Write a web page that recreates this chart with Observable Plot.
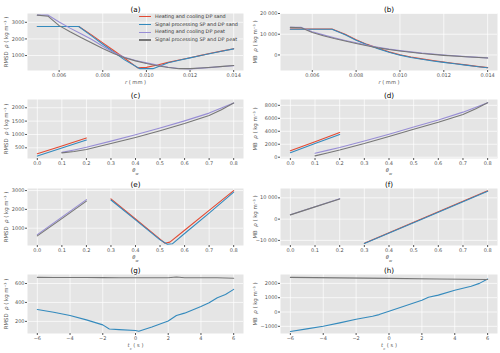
<!DOCTYPE html>
<html><head><meta charset="utf-8">
<script src="https://cdn.jsdelivr.net/npm/d3@7"></script>
<script src="https://cdn.jsdelivr.net/npm/@observablehq/plot@0.6"></script>
<style>
body{margin:0;background:#fff;}
#fig{position:relative;width:500px;height:353px;font-family:"DejaVu Sans",sans-serif;overflow:hidden;}
.cell{position:absolute;}
.legend{position:absolute;left:139px;top:13px;font-size:4.9px;color:#333;line-height:7.7px;}
.legend div{display:flex;align-items:center;height:7.7px;white-space:nowrap;}
.legend span.sw{display:inline-block;width:12px;height:1.2px;margin-right:4px;}
</style></head><body><div id="fig"></div>
<script>
// ---------- series names / colours ----------
const seriesNames = ["Heating and cooling DP sand", "Signal processing SP and DP sand", "Heating and cooling DP peat", "Signal processing SP and DP peat"];
const seriesColors = ["#E24A33", "#348ABD", "#988ED5", "#777777"];

// ---------- (a) RMSD vs r ----------
const aSandHC_r = [0.005, 0.0069, 0.0075, 0.008, 0.0085, 0.009, 0.0096, 0.0100, 0.0105, 0.011, 0.0115, 0.012, 0.0125, 0.013, 0.0135, 0.014];
const aSandHC   = [2750, 2750, 2230, 1760, 1300, 840, 260, 290, 430, 590, 730, 870, 1010, 1150, 1280, 1410];
const aSandSP_r = [0.005, 0.0069, 0.0075, 0.008, 0.0085, 0.009, 0.0097, 0.0103, 0.011, 0.0115, 0.012, 0.0125, 0.013, 0.0135, 0.014];
const aSandSP   = [2750, 2750, 2170, 1680, 1210, 740, 210, 210, 570, 720, 860, 1000, 1140, 1270, 1400];
const aPeat_r   = [0.005, 0.0055, 0.006, 0.0065, 0.007, 0.0075, 0.008, 0.0085, 0.009, 0.0095, 0.010, 0.0105, 0.011, 0.0115, 0.012, 0.0125, 0.013, 0.0135, 0.014];
const aPeatHC   = [3430, 3430, 3020, 2650, 2310, 1960, 1560, 1180, 900, 700, 560, 430, 300, 220, 200, 240, 290, 340, 390];
const aPeatSP   = [3430, 3360, 2800, 2430, 2080, 1760, 1420, 1120, 870, 680, 520, 390, 280, 210, 210, 250, 300, 350, 400];

// ---------- (b) MB vs r ----------
const bSand_r  = [0.005, 0.0069, 0.0075, 0.008, 0.0085, 0.009, 0.0095, 0.010, 0.0105, 0.011, 0.0115, 0.012, 0.0125, 0.013, 0.0135, 0.014];
const bSandHC  = [12500, 12500, 10000, 7300, 5100, 3200, 1500, 100, -1000, -1900, -2700, -3450, -4100, -4800, -5500, -6100];
const bSandSP  = [12400, 12400, 9800, 7100, 4900, 3000, 1300, -100, -1200, -2100, -2900, -3600, -4250, -4900, -5600, -6200];
const bPeat_r  = [0.005, 0.0055, 0.006, 0.0065, 0.007, 0.0075, 0.008, 0.0085, 0.009, 0.0095, 0.010, 0.011, 0.012, 0.013, 0.014];
const bPeatHC  = [13300, 13300, 11200, 9700, 8300, 7000, 5900, 4700, 3700, 2800, 2100, 900, 0, -800, -1400];
const bPeatSP  = [13300, 13100, 10800, 9300, 7900, 6700, 5500, 4400, 3400, 2600, 1900, 700, -200, -900, -1500];

// ---------- (c),(d) vs theta_w ----------
const cdSand_t = [0, 0.1, 0.2];
const cSandHC  = [280, 570, 870];
const cSandSP  = [190, 490, 790];
const cdPeat_t = [0.1, 0.15, 0.2, 0.3, 0.4, 0.5, 0.6, 0.7, 0.75, 0.8];
const cPeatHC  = [330, 420, 520, 750, 990, 1240, 1510, 1800, 1990, 2180];
const cPeatSP  = [310, 360, 440, 660, 890, 1140, 1410, 1710, 1930, 2180];
const dSandHC  = [1000, 2400, 3800];
const dSandSP  = [700, 2100, 3500];
const dPeatHC  = [600, 1050, 1500, 2500, 3550, 4650, 5750, 6950, 7650, 8400];
const dPeatSP  = [200, 650, 1100, 2100, 3200, 4300, 5400, 6600, 7450, 8400];

// ---------- (e),(f) vs theta_w ----------
const efPeat_t  = [0, 0.1, 0.2];
const ePeatHC   = [660, 1590, 2520];
const ePeatSP   = [590, 1510, 2440];
const eSandHC_t = [0.3, 0.4, 0.5, 0.52, 0.54, 0.6, 0.7, 0.8];
const eSandHC   = [2560, 1490, 420, 200, 260, 890, 1950, 3000];
const eSandSP_t = [0.3, 0.4, 0.5, 0.53, 0.55, 0.6, 0.7, 0.8];
const eSandSP   = [2500, 1440, 380, 150, 170, 720, 1800, 2920];
const fPeatHC   = [2100, 5850, 9600];
const fPeatSP   = [2000, 5750, 9500];
const fSand_t   = [0.3, 0.55, 0.8];
const fSandHC   = [-11300, 1000, 13300];
const fSandSP   = [-11500, 800, 13100];

// ---------- (g),(h) vs t_c ----------
const gPeat_tc = [-6, -5, -4, -3, -2, -1, 0, 1, 2, 2.5, 3, 4, 5, 6];
const gPeatSP  = [665, 664, 664, 663, 662, 661, 660, 660, 661, 668, 660, 661, 660, 656];
const gSand_tc = [-6, -5, -4, -3, -2, -1.6, -1, 0, 0.2, 1, 2, 2.5, 3, 4, 4.5, 5, 5.5, 6];
const gSandSP  = [325, 297, 262, 216, 163, 120, 113, 103, 95, 140, 204, 262, 287, 358, 397, 450, 483, 538];
const hPeat_tc = [-6, -3, 0, 3, 6];
const hPeatSP  = [2420, 2385, 2350, 2310, 2270];
const hSand_tc = [-6, -5, -4, -3, -2, -1, -0.6, 0, 1, 2, 2.4, 3, 4, 5, 5.5, 6];
const hSandSP  = [-1360, -1180, -990, -760, -510, -300, -180, 60, 440, 820, 1030, 1180, 1520, 1800, 2000, 2300];

// ---------- ticks ----------
const rTicks = [0.006, 0.008, 0.010, 0.012, 0.014];
const thTicks = [0, 0.1, 0.2, 0.3, 0.4, 0.5, 0.6, 0.7, 0.8];
const tcTicks = [-6, -4, -2, 0, 2, 4, 6];

const fmtNum = d => { const a = Math.abs(d); const s = a >= 10000 ? d3.format(",")(a).replace(/,/g, " ") : String(a); return (d < 0 ? "\u2212" : "") + s; };
const f3 = d3.format(".3f"), f1 = d3.format(".1f");

const S = (x, y) => x.map((v, i) => ({x: v, y: y[i]}));

const rmsdLabel = ["RMSD  ρ ( kg m⁻³ )", [["RMSD  "], ["ρ", "i"], [" ( kg m⁻³ )"]]];
const mbLabel = ["MB  ρ ( kg m⁻³ )", [["MB  "], ["ρ", "i"], [" ( kg m⁻³ )"]]];
const rLabel = ["r ( mm )", [["r", "i"], [" ( mm )"]]];
const thLabel = ["θw", [["θ", "i"], ["w", "isub"]]];
const tcLabel = ["tc ( s )", [["t", "i"], ["c", "isub"], [" ( s )"]]];

const rowTops = [1, 87, 176, 262];
const frameHs = [57, 59, 57, 59];

const panels = [
  {row: 0, col: 0, title: "(a)", xd: [0.00455, 0.01445], yd: [100, 3530], xt: rTicks, yt: [1000, 2000, 3000], xf: f3, xl: rLabel, yl: rmsdLabel,
   lines: [[aSandHC_r, aSandHC, 0], [aSandSP_r, aSandSP, 1], [aPeat_r, aPeatHC, 2], [aPeat_r, aPeatSP, 3]]},
  {row: 0, col: 1, title: "(b)", xd: [0.00455, 0.01445], yd: [-7500, 20000], xt: rTicks, yt: [0, 10000, 20000], xf: f3, xl: rLabel, yl: mbLabel,
   lines: [[bSand_r, bSandHC, 0], [bSand_r, bSandSP, 1], [bPeat_r, bPeatHC, 2], [bPeat_r, bPeatSP, 3]]},
  {row: 1, col: 0, title: "(c)", xd: [-0.04, 0.84], yd: [100, 2310], xt: thTicks, yt: [500, 1000, 1500, 2000], xf: f1, xl: thLabel, yl: rmsdLabel,
   lines: [[cdSand_t, cSandHC, 0], [cdSand_t, cSandSP, 1], [cdPeat_t, cPeatHC, 2], [cdPeat_t, cPeatSP, 3]]},
  {row: 1, col: 1, title: "(d)", xd: [-0.04, 0.84], yd: [-200, 8900], xt: thTicks, yt: [0, 2000, 4000, 6000, 8000], xf: f1, xl: thLabel, yl: mbLabel,
   lines: [[cdSand_t, dSandHC, 0], [cdSand_t, dSandSP, 1], [cdPeat_t, dPeatHC, 2], [cdPeat_t, dPeatSP, 3]]},
  {row: 2, col: 0, title: "(e)", xd: [-0.04, 0.84], yd: [80, 3110], xt: thTicks, yt: [1000, 2000, 3000], xf: f1, xl: thLabel, yl: rmsdLabel,
   lines: [[eSandHC_t, eSandHC, 0], [eSandSP_t, eSandSP, 1], [efPeat_t, ePeatHC, 2], [efPeat_t, ePeatSP, 3]]},
  {row: 2, col: 1, title: "(f)", xd: [-0.04, 0.84], yd: [-12400, 14400], xt: thTicks, yt: [-10000, 0, 10000], xf: f1, xl: thLabel, yl: mbLabel,
   lines: [[fSand_t, fSandHC, 0], [fSand_t, fSandSP, 1], [efPeat_t, fPeatHC, 2], [efPeat_t, fPeatSP, 3]]},
  {row: 3, col: 0, title: "(g)", xd: [-6.6, 6.6], yd: [72, 695], xt: tcTicks, yt: [200, 400, 600], xf: fmtNum, xl: tcLabel, yl: rmsdLabel,
   lines: [[gSand_tc, gSandSP, 1], [gPeat_tc, gPeatSP, 3]]},
  {row: 3, col: 1, title: "(h)", xd: [-6.6, 6.6], yd: [-1500, 2620], xt: tcTicks, yt: [-1000, 0, 1000, 2000], xf: fmtNum, xl: tcLabel, yl: mbLabel,
   lines: [[hSand_tc, hSandSP, 1], [hPeat_tc, hPeatSP, 3]]}
];

function richify(svg, plain, segs) {
  svg.querySelectorAll("text").forEach(t => {
    if (t.textContent === plain) {
      t.textContent = "";
      segs.forEach(([s, k]) => {
        const ts = document.createElementNS("http://www.w3.org/2000/svg", "tspan");
        ts.textContent = s;
        if (k && k.includes("i")) ts.setAttribute("font-style", "italic");
        if (k && k.includes("sub")) { ts.setAttribute("baseline-shift", "sub"); ts.setAttribute("font-size", "3.8"); }
        t.appendChild(ts);
      });
    }
  });
}

const fig = document.getElementById("fig");
for (const p of panels) {
  const left = p.col === 0;
  const mL = left ? 27 : 30, mR = left ? 7 : 3, mT = 12, mB = 18;
  const fh = frameHs[p.row];
  const svg = Plot.plot({
    width: 250, height: mT + fh + mB,
    marginLeft: mL, marginRight: mR, marginTop: mT, marginBottom: mB,
    style: {fontFamily: "DejaVu Sans", fontSize: "5px", color: "#555", background: "transparent", overflow: "visible"},
    x: {domain: p.xd}, y: {domain: p.yd},
    marks: [
      Plot.frame({fill: "#E5E5E5", stroke: "none"}),
      Plot.gridX({ticks: p.xt, stroke: "white", strokeOpacity: 1, strokeWidth: 0.7}),
      Plot.gridY({ticks: p.yt, stroke: "white", strokeOpacity: 1, strokeWidth: 0.7}),
      Plot.axisX({ticks: p.xt, tickFormat: p.xf, tickSize: 2, tickPadding: 1, label: null, stroke: "#555"}),
      Plot.axisY({ticks: p.yt, tickFormat: fmtNum, tickSize: 2, tickPadding: 1, label: null, stroke: "#555"}),
      ...p.lines.map(([xs, ys, k]) => Plot.line(S(xs, ys), {x: "x", y: "y", stroke: seriesColors[k], strokeWidth: 1.1})),
      Plot.text([p.title], {frameAnchor: "top", dy: -7, fontSize: 7.2, fill: "black"}),
      Plot.text([p.xl[0]], {frameAnchor: "bottom", dy: 13.5, fontSize: 5.2, fill: "#555"}),
      Plot.text([p.yl[0]], {frameAnchor: "left", textAnchor: "middle", dx: left ? -21 : -25.5, rotate: -90, fontSize: 5.4, fill: "#555"})
    ]
  });
  richify(svg, p.xl[0], p.xl[1]);
  richify(svg, p.yl[0], p.yl[1]);
  const div = document.createElement("div");
  div.className = "cell";
  div.style.left = (p.col * 250) + "px";
  div.style.top = rowTops[p.row] + "px";
  div.appendChild(svg);
  fig.appendChild(div);
}

// legend in panel (a)
const leg = document.createElement("div");
leg.className = "legend";
seriesNames.forEach((n, i) => {
  const row = document.createElement("div");
  const sw = document.createElement("span");
  sw.className = "sw"; sw.style.background = seriesColors[i];
  row.appendChild(sw);
  row.appendChild(document.createTextNode(n));
  leg.appendChild(row);
});
fig.appendChild(leg);
</script>
</body></html>
